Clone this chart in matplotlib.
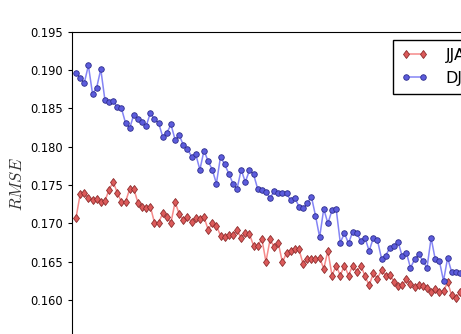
import numpy as np
import matplotlib
matplotlib.use("Agg")
import matplotlib.pyplot as plt
from matplotlib.ticker import FormatStrFormatter, MultipleLocator

# RMSE per step (only the visible part of the run)
jja = [0.1707, 0.1738, 0.1740, 0.1733, 0.1730, 0.1732, 0.1728, 0.1729, 0.1744, 0.1754,
       0.1740, 0.1728, 0.1728, 0.1745, 0.1745, 0.1727, 0.1722, 0.1720, 0.1722, 0.1701,
       0.1701, 0.1713, 0.1708, 0.1701, 0.1728, 0.1712, 0.1704, 0.1708, 0.1702, 0.1707,
       0.1706, 0.1708, 0.1692, 0.1700, 0.1697, 0.1684, 0.1682, 0.1685, 0.1685, 0.1691,
       0.1681, 0.1688, 0.1686, 0.1671, 0.1670, 0.1680, 0.1650, 0.1679, 0.1669, 0.1674,
       0.1649, 0.1662, 0.1664, 0.1666, 0.1666, 0.1647, 0.1654, 0.1654, 0.1654, 0.1655,
       0.1641, 0.1664, 0.1632, 0.1645, 0.1632, 0.1645, 0.1632, 0.1645, 0.1637, 0.1645,
       0.1631, 0.1619, 0.1635, 0.1628, 0.1639, 0.1632, 0.1633, 0.1624, 0.1618, 0.1619,
       0.1627, 0.1621, 0.1617, 0.1619, 0.1618, 0.1616, 0.1611, 0.1614, 0.1610, 0.1612,
       0.1623, 0.1606, 0.1603, 0.1610, 0.1608]
djf = [0.1896, 0.1890, 0.1883, 0.1906, 0.1869, 0.1877, 0.1901, 0.1861, 0.1858, 0.1859,
       0.1852, 0.1850, 0.1831, 0.1824, 0.1842, 0.1836, 0.1832, 0.1827, 0.1844, 0.1836,
       0.1831, 0.1813, 0.1818, 0.1829, 0.1809, 0.1815, 0.1802, 0.1797, 0.1787, 0.1790,
       0.1770, 0.1795, 0.1781, 0.1770, 0.1752, 0.1787, 0.1777, 0.1765, 0.1752, 0.1745,
       0.1770, 0.1754, 0.1769, 0.1764, 0.1745, 0.1744, 0.1741, 0.1733, 0.1742, 0.1740,
       0.1740, 0.1739, 0.1730, 0.1733, 0.1722, 0.1720, 0.1726, 0.1735, 0.1710, 0.1682,
       0.1719, 0.1700, 0.1717, 0.1719, 0.1675, 0.1687, 0.1674, 0.1689, 0.1687, 0.1677,
       0.1681, 0.1664, 0.1681, 0.1678, 0.1654, 0.1658, 0.1668, 0.1670, 0.1676, 0.1657,
       0.1662, 0.1642, 0.1653, 0.1660, 0.1651, 0.1642, 0.1681, 0.1653, 0.1651, 0.1625,
       0.1655, 0.1636, 0.1636, 0.1635, 0.1637]
labels = ["JJA", "DJF"]

plt.rcParams["mathtext.fontset"] = "cm"

fig = plt.figure(figsize=(4.61, 3.34), dpi=100)
# the picture is a crop of a bigger plot, so the axes run past the right/bottom edge
ax = fig.add_axes([72 / 461, 1 - 376.7 / 334, 528 / 461, 345 / 334])

ax.plot(np.arange(len(jja)), jja, "-d", color="#f58a8a", lw=1.1, ms=4.5,
        mfc="#dc5a5a", mec="#8c2c2c", mew=0.6, label=labels[0])
ax.plot(np.arange(len(djf)), djf, "-o", color="#8585f5", lw=1.1, ms=4,
        mfc="#5c5cdc", mec="#2c2c8c", mew=0.6, label=labels[1])

ax.set_xlim(-0.97, 126.9)
ax.set_ylim(0.150, 0.195)
ax.yaxis.set_major_locator(MultipleLocator(0.005))
ax.yaxis.set_major_formatter(FormatStrFormatter("%.3f"))
ax.tick_params(axis="both", direction="out", length=3, labelsize=8.3, top=False, right=False)
ax.tick_params(axis="x", labelbottom=False)
ax.set_ylabel("$RMSE$", fontsize=12, color="#333333")
ax.yaxis.set_label_coords(-0.087, 0.559)

ax.legend(loc="upper left", bbox_to_anchor=(393 / 461, 1 - 40 / 334),
          bbox_transform=fig.transFigure, numpoints=2, fontsize=11.5,
          fancybox=False, edgecolor="k", framealpha=1, handlelength=1.7,
          handletextpad=1.1, borderaxespad=0, borderpad=0.5)

fig.savefig("out.png", dpi=100)
